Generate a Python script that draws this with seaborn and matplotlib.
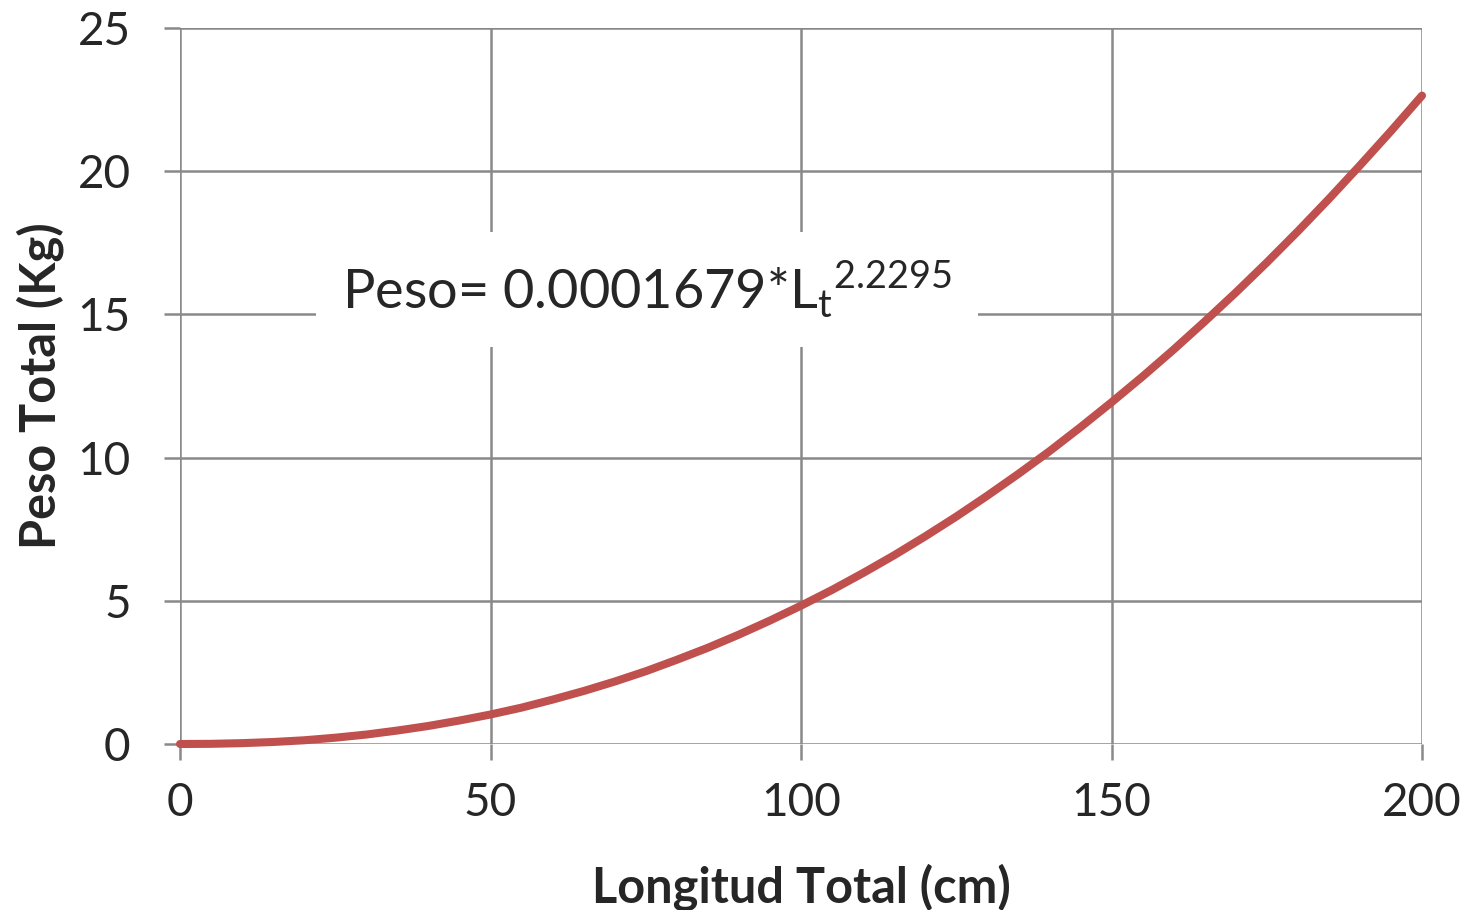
import numpy as np
import pandas as pd
import matplotlib
matplotlib.use("Agg")
import matplotlib.pyplot as plt
import seaborn as sns

## values (every 5 cm)
longitud = [0, 5, 10, 15, 20, 25, 30, 35, 40, 45, 50,
            55, 60, 65, 70, 75, 80, 85, 90, 95, 100,
            105, 110, 115, 120, 125, 130, 135, 140, 145, 150,
            155, 160, 165, 170, 175, 180, 185, 190, 195, 200]
peso = [0.0, 0.006, 0.03, 0.07, 0.13, 0.22, 0.33, 0.47, 0.63, 0.82, 1.03,
        1.27, 1.55, 1.85, 2.18, 2.54, 2.94, 3.36, 3.82, 4.31, 4.83,
        5.38, 5.97, 6.59, 7.25, 7.94, 8.67, 9.43, 10.22, 11.06, 11.93,
        12.83, 13.77, 14.75, 15.76, 16.81, 17.90, 19.03, 20.20, 21.40, 22.64]
x_ticks = [0, 50, 100, 150, 200]
y_ticks = [0, 5, 10, 15, 20, 25]

df = pd.DataFrame({"Longitud": longitud, "Peso": peso})

sns.set_style("white")
plt.rcParams['font.family'] = ['Lato', 'DejaVu Sans']
plt.rcParams['mathtext.fontset'] = 'custom'
plt.rcParams['mathtext.rm'] = 'Lato'

grid_c = '#898989'

fig = plt.figure(figsize=(14.71, 9.10), dpi=100)
ax = fig.add_axes([180/1471, 1 - 744/910, (1422-180)/1471, (744-28)/910])

sns.lineplot(data=df, x="Longitud", y="Peso", ax=ax, color='#C0504D',
             linewidth=5.8, zorder=3)
for l in ax.lines:
    l.set_clip_on(False)
    l.set_solid_capstyle('round')
    l.set_solid_joinstyle('round')

ax.set_xlim(0, 200)
ax.set_ylim(0, 25)
ax.set_xticks(x_ticks)
ax.set_yticks(y_ticks)
ax.grid(True, color=grid_c, linewidth=1.8)
ax.set_axisbelow(True)
for s in ax.spines.values():
    s.set_visible(False)
ax.tick_params(axis='both', bottom=True, left=True, length=11.5, width=1.8,
               color=grid_c, labelsize=33, direction='out')
ax.tick_params(axis='y', pad=24)
ax.tick_params(axis='x', pad=16)

ax.set_xlabel("Longitud Total (cm)", fontsize=35, fontweight='bold', labelpad=28)
ax.set_ylabel("Peso Total (Kg)", fontsize=35, fontweight='bold', labelpad=10)

ax.text(0.376, 0.635,
        r"Peso= 0.0001679*L$_\mathregular{t}$$^\mathregular{2.2295}$",
        transform=ax.transAxes, fontsize=39, ha='center', va='center',
        bbox=dict(facecolor='white', edgecolor='none', pad=19), zorder=4)

fig.savefig("out.png", dpi=100)
